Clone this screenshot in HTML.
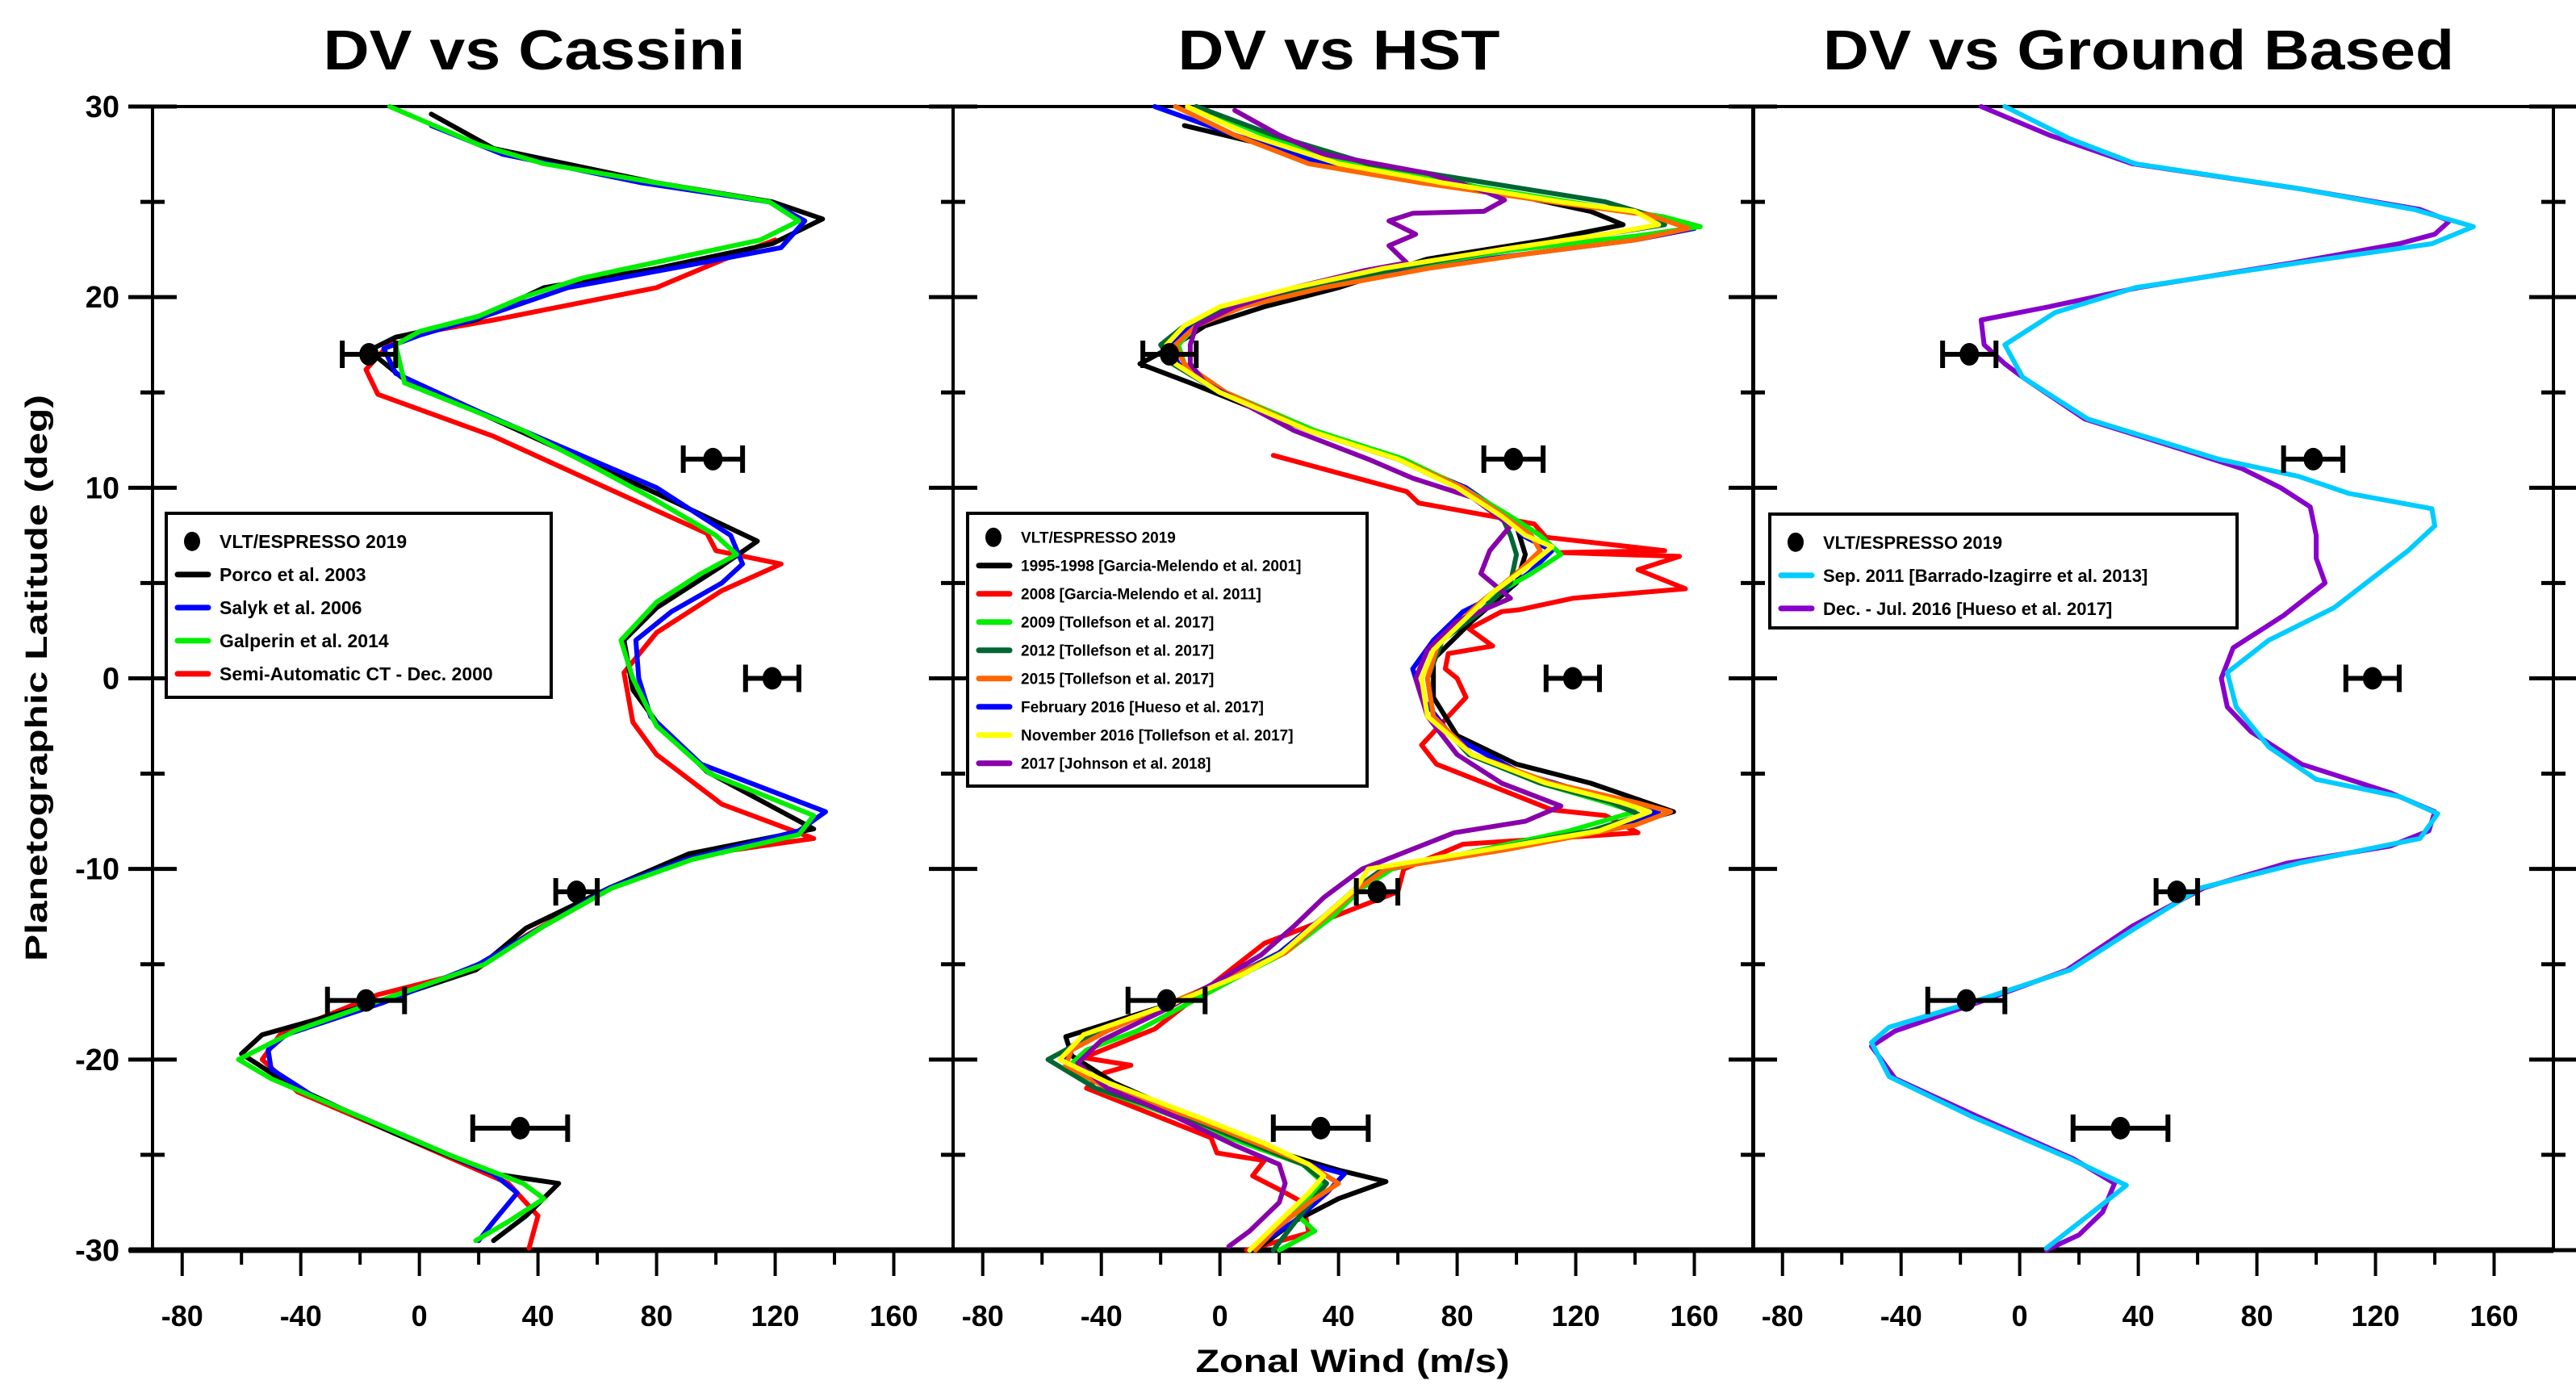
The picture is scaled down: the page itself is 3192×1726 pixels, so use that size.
<!DOCTYPE html>
<html><head><meta charset="utf-8"><style>
html,body{margin:0;padding:0;background:#fff;}
svg{display:block;font-family:"Liberation Sans",Arial,sans-serif;font-weight:bold;}
</style></head><body>
<svg id="chart" width="3192" height="1726" viewBox="0 0 3192 1726" xmlns="http://www.w3.org/2000/svg">
<rect width="3192" height="1726" fill="#fff"/>
<text x="662" y="86" font-size="70" text-anchor="middle" textLength="523" lengthAdjust="spacingAndGlyphs">DV vs Cassini</text>
<text x="1659" y="86" font-size="70" text-anchor="middle" textLength="399" lengthAdjust="spacingAndGlyphs">DV vs HST</text>
<text x="2650" y="86" font-size="70" text-anchor="middle" textLength="782" lengthAdjust="spacingAndGlyphs">DV vs Ground Based</text>
<text transform="translate(58,840) rotate(-90)" font-size="38" text-anchor="middle" textLength="702" lengthAdjust="spacingAndGlyphs">Planetographic Latitude (deg)</text>
<text x="1676" y="1700" font-size="40" text-anchor="middle" textLength="389" lengthAdjust="spacingAndGlyphs">Zonal Wind (m/s)</text>
<g id="g"></g>
</svg>
<script>
// ---- data ----
const xTicks = [-80,-40,0,40,80,120,160];
const yTicks = [30,20,10,0,-10,-20,-30];
const obsLat = [17,11.5,0,-11.2,-16.9,-23.6];
const obsWind = [-17,99,119,53,-18,34];
const obsErr = [9,10,9,7,13,16];
// panel 1 (Cassini)  [lat, wind]
const porco2003 = [[29.6,4],[27.8,25],[26,80],[25,119],[24.1,136],[22.8,119],[21.5,80],[20.5,42],[18.8,19],[17.9,-8],[17.2,-17],[15.8,-6],[13.6,25],[9.7,80],[7.2,114],[5.9,102],[3.7,80],[2,69],[-0.6,72],[-2.3,80],[-4.9,97],[-7.9,133],[-9.2,91],[-11,64],[-13.1,36],[-15.3,19],[-17,-14],[-18.7,-53],[-19.7,-60],[-21.3,-44],[-23.9,-8],[-26,25],[-26.5,47],[-28.2,36],[-29.5,25]];
const salyk2006 = [[29,4],[27.5,28],[26,75],[25,118],[24,130],[22.6,122],[21.5,85],[20.5,50],[19,22],[18,0],[17.3,-12],[16,-8],[14,20],[12,50],[10,80],[7.5,105],[6,109],[5,102],[3.5,85],[2,73],[0,74],[-2,78],[-4.5,95],[-7,137],[-8,128],[-9.5,90],[-11,64],[-13,42],[-15,20],[-17,-12],[-18.7,-45],[-19.5,-51],[-20.5,-50],[-22,-35],[-24,-5],[-26,25],[-27,33],[-28.5,25],[-29.5,20]];
const galperin2014 = [[30,-10],[28,20],[27,42],[26,80],[25,118],[24,128],[23,115],[22,85],[21,55],[20,35],[19,20],[18.2,0],[17.5,-8],[15.5,-5],[13,35],[11,60],[9.5,78],[7.5,100],[6.5,107],[5.5,95],[4,80],[2,68],[0,72],[-2.5,80],[-5,98],[-7.2,133],[-8.2,128],[-9.5,92],[-11,65],[-13,42],[-15,22],[-17,-15],[-18.5,-42],[-20,-61],[-21,-50],[-23,-20],[-25,10],[-26.5,35],[-27.3,42],[-28.5,30],[-29.5,19]];
const semiAuto2000 = [[23,120],[22,103],[20.5,80],[18.8,25],[17.9,-8],[16.2,-18],[14.9,-14],[12.7,25],[8.8,80],[7.6,97],[6.7,100],[6,122],[4.6,102],[2.4,80],[0.3,69],[-2.3,72],[-4,80],[-6.6,102],[-8.4,133],[-9.2,97],[-11,64],[-13.5,36],[-15.3,19],[-16.6,-14],[-18.7,-47],[-20,-53],[-21.7,-41],[-23.9,-8],[-26.5,30],[-28.2,40],[-29.9,37]];
// panel 2 (HST)
const gm2001 = [[29,-12],[28,15],[27,45],[26,80],[25,110],[24.5,125],[23.8,136],[23,110],[22,70],[21,50],[20.5,40],[19.5,15],[18.5,-5],[17.5,-15],[16.5,-27],[15.5,-10],[13,30],[11.5,60],[10,82],[8,100],[6.5,103],[5,100],[3,85],[1,72],[-1,72],[-3,80],[-4.5,100],[-5.5,125],[-6.3,140],[-7,153],[-7.8,135],[-9,92],[-10,55],[-11,46],[-12.5,35],[-14.4,21],[-15.5,8],[-17,-15],[-18.8,-52],[-19.8,-50],[-21.2,-36],[-23,-10],[-24.5,12],[-25.8,40],[-26.4,56],[-27.3,40],[-28.5,25],[-30,12]];
const gm2011 = [[11.7,18],[9.8,63],[9.2,67],[8.1,106],[7.4,110],[6.7,150],[6.6,115],[6.4,155],[5.7,141],[4.7,157],[4.2,119],[3.6,101],[3.5,95],[2.6,84],[1.7,92],[1.3,77],[0.5,76],[0,80],[-1,83],[-3.5,68],[-4.5,73],[-5.6,91],[-6.9,112],[-7.2,130],[-8.1,141],[-8.7,82],[-10,62],[-11.2,60],[-13.9,15],[-16.1,-3],[-18.4,-22],[-19.9,-46],[-20.3,-30],[-20.7,-39],[-21.5,-45],[-24.1,-3],[-24.9,-1],[-25.3,15],[-26.1,11],[-26.9,21],[-27.5,28],[-29.1,30],[-30,9]];
const tol2009 = [[30,-8],[28.5,15],[27,45],[26,78],[25,118],[24.2,150],[23.7,162],[23.2,140],[22.5,100],[21.5,60],[20.5,30],[19.5,5],[18.5,-8],[17.5,-14],[16.5,-12],[15,2],[13,32],[11.5,62],[10,82],[8.5,98],[7.5,108],[6.5,115],[5.5,105],[4,88],[2,75],[0,70],[-2,72],[-4,84],[-5.5,108],[-6.5,130],[-7,140],[-8,118],[-9,88],[-10,58],[-11,48],[-12.5,38],[-14.4,22],[-15.5,8],[-17,-10],[-18.5,-28],[-19.5,-45],[-20.5,-52],[-21.5,-42],[-23,-15],[-24.5,10],[-25.5,28],[-26.5,35],[-28,25],[-29,32],[-30,20]];
const tol2012 = [[30,-8],[28.5,18],[27,50],[26,90],[25,130],[24.3,145],[23.8,150],[23.3,130],[22.5,95],[21.5,60],[20.5,28],[19.5,3],[18.5,-12],[17.5,-20],[16.5,-16],[15,0],[13,30],[11.5,60],[10,80],[8.5,95],[7.5,98],[6.5,100],[5,98],[3.5,88],[2,75],[0,70],[-2,72],[-4,84],[-5.5,108],[-6.5,132],[-7.2,142],[-8,125],[-9,90],[-10,55],[-11,46],[-12.5,36],[-14.4,21],[-15.5,6],[-17,-16],[-18.5,-40],[-19.5,-52],[-20,-58],[-21.5,-42],[-23,-12],[-24.5,12],[-25.5,28],[-26.5,36],[-28,28],[-30,18]];
const tol2015 = [[30,-15],[28.5,5],[27,30],[26,68],[25,112],[24.3,145],[23.6,158],[23,140],[22.3,105],[21.5,70],[20.5,35],[19.5,8],[18.5,-8],[17.5,-15],[16.5,-12],[15,2],[13,30],[11.5,60],[10,82],[8.5,96],[7.5,105],[6.7,108],[5.5,100],[4,88],[2,74],[0,70],[-2,72],[-4,85],[-5.5,112],[-6.5,140],[-7,152],[-7.7,140],[-9,96],[-10,56],[-11,47],[-12.5,36],[-14.4,22],[-15.5,6],[-17,-16],[-18.5,-38],[-19.5,-50],[-20.3,-52],[-21.5,-38],[-23,-10],[-24.5,14],[-25.5,30],[-26.5,40],[-27.5,30],[-29,18],[-30,12]];
const hueso2016 = [[30,-22],[28.5,5],[27,35],[26,70],[25,115],[24.2,150],[23.6,160],[23,140],[22.3,105],[21.5,65],[20.5,32],[19.5,5],[18.5,-10],[17.5,-17],[16.5,-14],[15,0],[13,30],[11.5,60],[10,83],[8.5,97],[7.5,102],[6.7,112],[5.5,104],[4.5,95],[3.5,82],[2,72],[0.5,65],[-1,68],[-3,78],[-5,102],[-6.5,135],[-7,148],[-8,128],[-9,92],[-10,55],[-11,46],[-12.5,35],[-14.4,20],[-15.5,6],[-17,-15],[-18.5,-42],[-19.5,-52],[-20.5,-52],[-21.5,-42],[-23,-13],[-24.5,12],[-25.5,30],[-26,42],[-27,36],[-28.5,25],[-30,10]];
const tolNov2016 = [[30,-11],[28.5,10],[27,40],[26,75],[25,115],[24.5,140],[23.8,148],[23.3,130],[22.5,95],[21.5,55],[20.5,25],[19.5,0],[18.5,-12],[17.5,-18],[16.5,-15],[15,0],[13,30],[11.5,60],[10,80],[8.5,95],[7.5,103],[6.9,112],[6,105],[4.5,92],[3,82],[1.5,72],[0,68],[-2,70],[-4,85],[-5.5,110],[-6.5,135],[-7,145],[-8,128],[-9,90],[-10,50],[-11,46],[-12.5,35],[-14.4,21],[-15.5,8],[-17,-15],[-18.7,-46],[-20,-54],[-21.2,-38],[-23.1,-6],[-24.4,15],[-25.5,30],[-26.1,35],[-27,30],[-28.5,20],[-30,10]];
const johnson2018 = [[29.8,5],[28.5,20],[27.5,35],[26.5,70],[25.5,90],[25.1,96],[24.5,89],[24.4,65],[24,57],[23.3,66],[22.7,57],[21.8,63],[21.4,49],[20.5,25],[19.5,5],[18.5,-8],[17.5,-10],[16.5,-10],[15.5,-5],[13,25],[11.5,50],[10.5,65],[9.5,85],[8,98],[6.7,91],[5.5,88],[4.2,98],[3,80],[1.5,70],[0,66],[-2,70],[-4,80],[-5.5,95],[-6.7,115],[-7.5,103],[-8.1,79],[-10,48],[-11.5,35],[-13,25],[-14.5,14],[-16,-2],[-17.5,-20],[-19,-40],[-20.2,-48],[-21.5,-38],[-23,-15],[-24.5,5],[-25.5,20],[-26.5,22],[-27.5,20],[-29,10],[-29.8,3]];
// panel 3 (ground based)
const barrado2013 = [[30,-5],[28.3,17],[27,39],[25.7,94],[24.6,133],[23.7,153],[22.8,139],[21.8,94],[20.5,39],[19.2,12],[17.5,-5],[15.8,1],[13.6,23],[11.5,67],[10.6,94],[9.7,111],[8.9,139],[8,140],[6.7,131],[3.7,106],[2,84],[0.3,70],[-1.5,73],[-3.6,84],[-5.3,100],[-6.2,128],[-7.1,141],[-8.4,135],[-9.7,94],[-11,61],[-13.1,39],[-15.3,17],[-17,-16],[-18.3,-44],[-19.1,-50],[-20.9,-44],[-23,-16],[-25.2,17],[-26.6,36],[-28.2,23],[-29.9,9]];
const hueso2017 = [[30,-13],[28.5,10],[27,38],[25.7,94],[24.6,135],[24,145],[23.3,140],[22.8,128],[21.8,92],[20.5,40],[19.5,10],[18.8,-13],[17.5,-12],[16.5,-5],[15.8,1],[13.6,22],[12,55],[11,75],[10,88],[9,98],[7.5,100],[6.3,100],[5,103],[3.3,89],[1.6,72],[0,68],[-1.5,70],[-2.8,78],[-4.5,95],[-6,125],[-7,140],[-8,138],[-8.8,125],[-9.7,90],[-11,62],[-13,38],[-15.3,16],[-17,-14],[-18.5,-42],[-19.3,-50],[-21,-42],[-23,-14],[-25.2,18],[-26.5,32],[-28,28],[-29.2,20],[-30,9]];

// ---- layout ----
const panelLeft = [189, 1181, 2172];
const panelW = 992, plotTop = 132, plotBottom = 1549;
const xMin = -90, xMax = 180, yMin = -30, yMax = 30;
function xs(p, u){ return panelLeft[p] + (u - xMin) / (xMax - xMin) * panelW; }
function ys(lat){ return plotTop + (yMax - lat) / (yMax - yMin) * (plotBottom - plotTop); }
const NS = 'http://www.w3.org/2000/svg';
const g = document.getElementById('g');
function mk(tag, attrs, parent){ const e = document.createElementNS(NS, tag); for (const k in attrs) e.setAttribute(k, attrs[k]); (parent||g).appendChild(e); return e; }

// axes
for (let p = 0; p < 3; p++){
  const fr = mk('rect', {x: panelLeft[p], y: plotTop, width: panelW, height: plotBottom - plotTop, fill: 'none', stroke: '#000', 'stroke-width': 4});
  
  
  for (let v = -80; v <= 160; v += 20){
    const major = v % 40 === 0;
    const t = mk('line', {x1: xs(p,v), x2: xs(p,v), y1: plotBottom, y2: plotBottom + (major ? 32 : 18), stroke: '#000', 'stroke-width': 4});
    
    
  }
  xTicks.forEach(v => {
    const tx = mk('text', {x: xs(p,v), y: 1643, 'font-size': 36, 'text-anchor': 'middle'});
    tx.textContent = v;
    
    
  });
}
const bl = mk('line', {x1: 160, x2: 3164, y1: plotBottom, y2: plotBottom, stroke: '#000', 'stroke-width': 7});


const edges = [189, 1181, 2172, 3164];
edges.forEach(ex => {
  for (let v = -30; v <= 30; v += 5){
    const major = v % 10 === 0;
    const h = major ? 30 : 15;
    const t = mk('line', {x1: ex - h, x2: ex + h, y1: ys(v), y2: ys(v), stroke: '#000', 'stroke-width': 5});
    
    
  }
});
yTicks.forEach(v => {
  const tx = mk('text', {x: 148, y: ys(v) + 13, 'font-size': 38, 'text-anchor': 'end'});
  tx.textContent = v;
  
  
});

function drawSeries(p, data, color, name, w){
  const d = data.map((pt,i) => (i ? 'L' : 'M') + xs(p, pt[1]).toFixed(1) + ' ' + ys(pt[0]).toFixed(1)).join(' ');
  const path = mk('path', {d: d, fill: 'none', stroke: color, 'stroke-width': w || 6, 'stroke-linejoin': 'round', 'stroke-linecap': 'round'});
  
  
}
function drawObs(p){
  obsLat.forEach((lat, i) => {
    const y = ys(lat), xl = xs(p, obsWind[i] - obsErr[i]), xr = xs(p, obsWind[i] + obsErr[i]);
    const eb = mk('path', {d: `M${xl} ${y} L${xr} ${y} M${xl} ${y-17} L${xl} ${y+17} M${xr} ${y-17} L${xr} ${y+17}`, stroke: '#000', 'stroke-width': 6, fill: 'none'});
    
    
    const c = mk('ellipse', {cx: xs(p, obsWind[i]), cy: y, rx: 12, ry: 14, fill: '#000'});
    
    
  });
}
// panel 1
drawSeries(0, semiAuto2000, '#ff0000', 'series-semi-automatic-ct');
drawSeries(0, porco2003, '#000000', 'series-porco-2003');
drawSeries(0, salyk2006, '#0000ff', 'series-salyk-2006');
drawSeries(0, galperin2014, '#00ee00', 'series-galperin-2014');
drawObs(0);
// panel 2
drawSeries(1, gm2011, '#ff0000', 'series-2008');
drawSeries(1, gm2001, '#000000', 'series-1995-1998');
drawSeries(1, hueso2016, '#0000ff', 'series-feb-2016');
drawSeries(1, tol2009, '#00ee00', 'series-2009');
drawSeries(1, tol2012, '#006633', 'series-2012');
drawSeries(1, tol2015, '#ff6600', 'series-2015');
drawSeries(1, johnson2018, '#8800aa', 'series-2017');
drawSeries(1, tolNov2016, '#ffff00', 'series-nov-2016');
drawObs(1);
// panel 3
drawSeries(2, hueso2017, '#8800cc', 'series-dec-jul-2016');
drawSeries(2, barrado2013, '#00ccff', 'series-sep-2011');
drawObs(2);

// legends
function legend(x, y, w, h, rowH, fs, entries, name){
  const lg = mk('g', {});
  
  
  mk('rect', {x: x, y: y, width: w, height: h, fill: '#fff', stroke: '#000', 'stroke-width': 4}, lg);
  entries.forEach((e, i) => {
    const cy = y + rowH * 0.85 + i * rowH;
    if (e[0] === 'dot') mk('ellipse', {cx: x + 32, cy: cy, rx: 10, ry: 12, fill: '#000'}, lg);
    else mk('line', {x1: x + 14, x2: x + 52, y1: cy, y2: cy, stroke: e[0], 'stroke-width': 7, 'stroke-linecap': 'round'}, lg);
    const t = mk('text', {x: x + 66, y: cy + fs * 0.36, 'font-size': fs}, lg);
    t.textContent = e[1];
  });
}
legend(206, 636, 477, 228, 41, 23, [['dot','VLT/ESPRESSO 2019'],['#000','Porco et al. 2003'],['#0000ff','Salyk et al. 2006'],['#00ee00','Galperin et al. 2014'],['#ff0000','Semi-Automatic CT - Dec. 2000']], 'legend-cassini');
legend(1199, 636, 495, 338, 35, 19, [['dot','VLT/ESPRESSO 2019'],['#000','1995-1998 [Garcia-Melendo et al. 2001]'],['#ff0000','2008 [Garcia-Melendo et al. 2011]'],['#00ee00','2009 [Tollefson et al. 2017]'],['#006633','2012 [Tollefson et al. 2017]'],['#ff6600','2015 [Tollefson et al. 2017]'],['#0000ff','February 2016 [Hueso et al. 2017]'],['#ffff00','November 2016 [Tollefson et al. 2017]'],['#8800aa','2017 [Johnson et al. 2018]']], 'legend-hst');
legend(2193, 637, 579, 141, 41, 22, [['dot','VLT/ESPRESSO 2019'],['#00ccff','Sep. 2011 [Barrado-Izagirre et al. 2013]'],['#8800cc','Dec. - Jul. 2016 [Hueso et al. 2017]']], 'legend-ground-based');
</script>
</body></html>
